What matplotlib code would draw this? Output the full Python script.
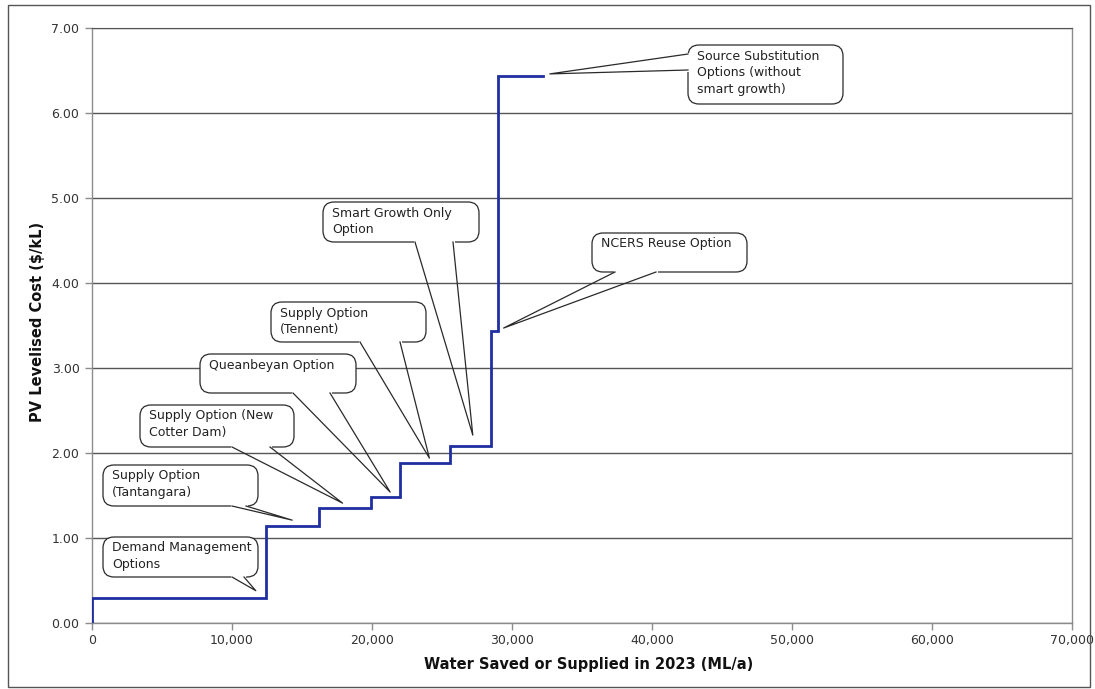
import matplotlib
matplotlib.use("Agg")
import matplotlib.pyplot as plt
from matplotlib.patches import FancyBboxPatch, Rectangle
from matplotlib.transforms import Affine2D
from matplotlib.lines import Line2D
from matplotlib.ticker import FuncFormatter

# ---- data ----
step_edges = [0, 12400, 16200, 19900, 22000, 25600, 28500, 29000, 32200]   # ML/a
step_costs = [0.30, 1.14, 1.35, 1.48, 1.88, 2.08, 3.43, 6.44]              # $/kL
option_labels = [
    "Demand Management\nOptions",
    "Supply Option\n(Tantangara)",
    "Supply Option (New\nCotter Dam)",
    "Queanbeyan Option",
    "Supply Option\n(Tennent)",
    "Smart Growth Only\nOption",
    "NCERS Reuse Option",
    "Source Substitution\nOptions (without\nsmart growth)",
]
x_ticks = [0, 10000, 20000, 30000, 40000, 50000, 60000, 70000]
y_ticks = [0, 1, 2, 3, 4, 5, 6, 7]

# ---- callout layout (reference pixel coords for boxes; tip x in data units) ----
# box (x0, y0, x1, y1), tail base points, tip x (ML), tip y offset above step
callout_layout = [
    ((103, 537, 258, 577), ((232, 577), (244, 577)), 11700, 0.08),
    ((103, 465, 258, 506), ((232, 506), (246, 506)), 14300, 0.07),
    ((140, 405, 294, 447), ((232, 447), (270, 447)), 17900, 0.06),
    ((200, 354, 356, 393), ((293, 393), (330, 393)), 21300, 0.06),
    ((271, 302, 426, 342), ((360, 342), (400, 342)), 24100, 0.06),
    ((323, 202, 479, 242), ((415, 242), (453, 242)), 27200, 0.13),
    ((592, 233, 747, 272), ((615, 272), (656, 272)), 29400, 0.04),
    ((688, 45, 843, 104), ((688, 54), (688, 70)), 32700, 0.02),
]

W, H = 1095, 689
fig = plt.figure(figsize=(W / 100, H / 100), dpi=100)
fig.patch.set_facecolor("white")
T = Affine2D().scale(1, -1).translate(0, H)  # reference pixel -> display

ax = fig.add_axes([92 / W, (H - 623) / H, (1072 - 92) / W, (623 - 28) / H])
ax.set_facecolor("white")

x_step = [0] + step_edges
y_step = [0] + step_costs + [step_costs[-1]]
ax.step(x_step, y_step, where="post", color="#1f2fa0", lw=2.0, zorder=3,
        solid_joinstyle="miter")

ax.set_xlim(0, 70000)
ax.set_ylim(0, 7)
ax.set_xticks(x_ticks)
ax.set_yticks(y_ticks)
ax.xaxis.set_major_formatter(FuncFormatter(lambda v, p: f"{int(v):,}"))
ax.yaxis.set_major_formatter(FuncFormatter(lambda v, p: f"{v:.2f}"))
ax.yaxis.grid(True, color="#555555", lw=1.0)
ax.set_axisbelow(True)
for s in ["left", "bottom", "right"]:
    ax.spines[s].set_color("#8c8c8c")
    ax.spines[s].set_linewidth(1.0)
ax.spines["top"].set_color("#555555")
ax.tick_params(axis="both", direction="out", length=5, color="#8c8c8c",
               labelcolor="#333333", labelsize=9, width=1)
ax.tick_params(axis="x", pad=3)
ax.tick_params(axis="y", pad=4)

fig.text(589, 665, "Water Saved or Supplied in 2023 (ML/a)", transform=T,
         ha="center", va="center", fontsize=10.5, fontweight="bold", color="#111111")
fig.text(38, 322, "PV Levelised Cost ($/kL)", transform=T, rotation=90,
         ha="center", va="center", fontsize=10.5, fontweight="bold", color="#111111")

fig.canvas.draw()

for i, (label, (box, base, tipx, dy)) in enumerate(zip(option_labels, callout_layout)):
    x0, y0, x1, y1 = box
    z = 5 + i * 0.1
    disp = ax.transData.transform((tipx, step_costs[i] + dy))
    tpx, tpy = disp[0], H - disp[1]
    p = FancyBboxPatch((x0, y0), x1 - x0, y1 - y0,
                       boxstyle="round,pad=0,rounding_size=11",
                       transform=T, fc="white", ec="#2a2a2a", lw=0.9, zorder=z)
    fig.add_artist(p)
    (b1x, b1y), (b2x, b2y) = base
    fig.add_artist(Line2D([b1x, b2x], [b1y, b2y], transform=T, color="white",
                          lw=2.2, zorder=z + 0.01))
    fig.add_artist(Line2D([b1x, tpx, b2x], [b1y, tpy, b2y], transform=T,
                          color="#2a2a2a", lw=0.9, zorder=z + 0.02))
    fig.text(x0 + 9, y0 + 4.5, label, transform=T, ha="left", va="top",
             fontsize=9, color="#222222", linespacing=1.38, zorder=z + 0.03)

fig.add_artist(Rectangle((8, 5), 1082, 682, transform=T, fill=False,
                         ec="#555555", lw=1.0, zorder=10))

fig.savefig("out.png", dpi=100, facecolor=fig.get_facecolor())
